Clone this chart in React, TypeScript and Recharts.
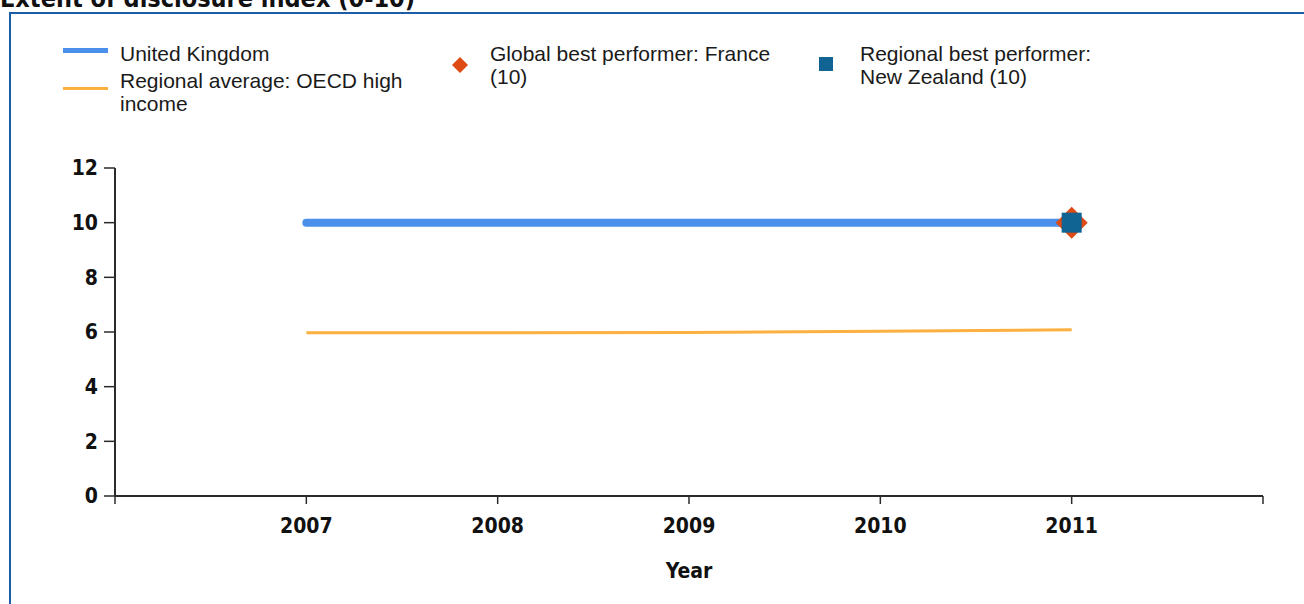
import React from 'react';
import { ComposedChart, Line, Scatter, XAxis, YAxis } from 'recharts';

const years = [2007, 2008, 2009, 2010, 2011];
const ukValues = [10, 10, 10, 10, 10];
const regionalValues = [5.97, 5.97, 5.98, 6.03, 6.08];
const globalBestYear = [2011];
const globalBestValue = [10];
const regionalBestYear = [2011];
const regionalBestValue = [10];
const xTicks = [2006, 2007, 2008, 2009, 2010, 2011, 2012];
const xLabelled = [2007, 2008, 2009, 2010, 2011];
const yTicks = [0, 2, 4, 6, 8, 10, 12];

const titleText = 'Extent of disclosure index (0-10)';
const ukName = 'United Kingdom';
const regionalNameLines = ['Regional average: OECD high', 'income'];
const globalNameLines = ['Global best performer: France', '(10)'];
const regionalBestNameLines = ['Regional best performer:', 'New Zealand (10)'];

const UK_COLOR = '#4a8fea';
const AVG_COLOR = '#fbb040';
const GLOBAL_COLOR = '#dd4a14';
const REGBEST_COLOR = '#0f6494';

const data = years.map((y, i) => ({ year: y, uk: ukValues[i], avg: regionalValues[i] }));
const globalData = globalBestYear.map((y, i) => ({ year: y, value: globalBestValue[i] }));
const regBestData = regionalBestYear.map((y, i) => ({ year: y, value: regionalBestValue[i] }));

const tickFont = "'DejaVu Sans Condensed', 'DejaVu Sans', Tahoma, sans-serif";
const legendFont = "'Liberation Sans', Arial, sans-serif";

const DiamondShape = (props: any) => {
  const { cx, cy } = props;
  const r = 16;
  return (
    <polygon
      points={`${cx},${cy - r} ${cx + r},${cy} ${cx},${cy + r} ${cx - r},${cy}`}
      fill={GLOBAL_COLOR}
    />
  );
};

const SquareShape = (props: any) => {
  const { cx, cy } = props;
  const s = 20;
  return <rect x={cx - s / 2} y={cy - s / 2} width={s} height={s} fill={REGBEST_COLOR} />;
};

const textStyle: React.CSSProperties = {
  position: 'absolute',
  fontFamily: legendFont,
  fontSize: 21,
  lineHeight: '23px',
  color: '#1a1a1a',
  whiteSpace: 'nowrap',
};

export default function App() {
  return (
    <div
      style={{
        position: 'absolute',
        left: 0,
        top: 0,
        width: 1304,
        height: 604,
        overflow: 'hidden',
        background: '#fff',
      }}
    >
      <div
        style={{
          position: 'absolute',
          left: 0,
          top: -14,
          fontFamily: tickFont,
          fontWeight: 'bold',
          fontSize: 25,
          lineHeight: '25px',
          color: '#111',
          whiteSpace: 'nowrap',
        }}
      >
        {titleText}
      </div>
      <div
        style={{
          position: 'absolute',
          left: 9,
          top: 12,
          width: 1400,
          height: 700,
          border: '2px solid #1d5ca6',
        }}
      />

      {/* Legend */}
      <div style={{ position: 'absolute', left: 63, top: 48, width: 45, height: 5, background: UK_COLOR }} />
      <div style={{ ...textStyle, left: 120, top: 42 }}>{ukName}</div>
      <div style={{ position: 'absolute', left: 63, top: 87, width: 45, height: 3, background: AVG_COLOR }} />
      <div style={{ ...textStyle, left: 120, top: 69 }}>
        {regionalNameLines.map((l) => (
          <div key={l}>{l}</div>
        ))}
      </div>
      <svg style={{ position: 'absolute', left: 450, top: 55 }} width={20} height={20}>
        <polygon points="10,2 18,10 10,18 2,10" fill={GLOBAL_COLOR} />
      </svg>
      <div style={{ ...textStyle, left: 490, top: 42 }}>
        {globalNameLines.map((l) => (
          <div key={l}>{l}</div>
        ))}
      </div>
      <svg style={{ position: 'absolute', left: 816, top: 54 }} width={20} height={20}>
        <rect x={3} y={3} width={14} height={14} fill={REGBEST_COLOR} />
      </svg>
      <div style={{ ...textStyle, left: 860, top: 42 }}>
        {regionalBestNameLines.map((l) => (
          <div key={l}>{l}</div>
        ))}
      </div>

      <div style={{ position: 'absolute', left: 0, top: 0 }}>
        <ComposedChart
          width={1304}
          height={604}
          data={data}
          margin={{ top: 168, right: 41, bottom: 18, left: 0 }}
        >
          <XAxis
            dataKey="year"
            type="number"
            domain={[2006, 2012]}
            ticks={xTicks}
            allowDataOverflow
            tickFormatter={(v: number) => (xLabelled.includes(v) ? String(v) : '')}
            height={90}
            tickSize={8}
            tickMargin={14}
            axisLine={{ stroke: '#2b2b2b', strokeWidth: 2 }}
            tickLine={{ stroke: '#2b2b2b', strokeWidth: 1.5 }}
            tick={{ fill: '#111', fontFamily: tickFont, fontWeight: 'bold', fontSize: 21 }}
            label={{
              value: 'Year',
              position: 'insideBottom',
              offset: 8,
              fill: '#111',
              fontFamily: tickFont,
              fontWeight: 'bold',
              fontSize: 21,
            }}
          />
          <YAxis
            type="number"
            domain={[0, 12]}
            ticks={yTicks}
            width={115}
            tickSize={11}
            tickMargin={6}
            axisLine={{ stroke: '#2b2b2b', strokeWidth: 2 }}
            tickLine={{ stroke: '#2b2b2b', strokeWidth: 1.5 }}
            tick={{ fill: '#111', fontFamily: tickFont, fontWeight: 'bold', fontSize: 21 }}
          />
          <Line
            dataKey="avg"
            stroke={AVG_COLOR}
            strokeWidth={3}
            dot={false}
            activeDot={false}
            isAnimationActive={false}
          />
          <Line
            dataKey="uk"
            stroke={UK_COLOR}
            strokeWidth={8}
            strokeLinecap="round"
            dot={false}
            activeDot={false}
            isAnimationActive={false}
          />
          <Scatter data={globalData} dataKey="value" shape={DiamondShape} isAnimationActive={false} />
          <Scatter data={regBestData} dataKey="value" shape={SquareShape} isAnimationActive={false} />
        </ComposedChart>
      </div>
    </div>
  );
}
